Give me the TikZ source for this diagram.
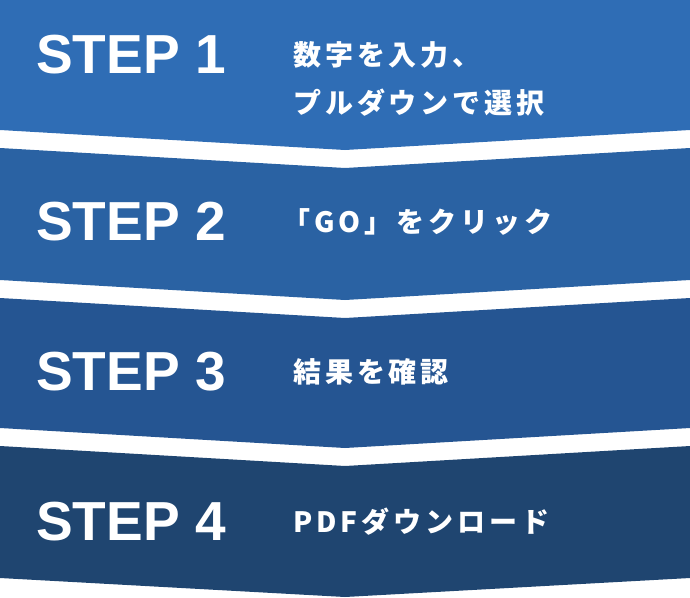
\documentclass[tikz,border=0pt]{standalone}
\usepackage{fontspec}
\setmainfont{Liberation Sans}
\newfontfamily\jp[LetterSpace=14]{Noto Sans CJK JP}
\definecolor{cA}{HTML}{2F6DB5}
\definecolor{cB}{HTML}{2A62A3}
\definecolor{cC}{HTML}{255592}
\definecolor{cD}{HTML}{1F4570}
\tikzset{
 steplbl/.style={anchor=west,text=white,font=\fontsize{55}{55}\selectfont\bfseries,inner sep=0pt},
 desc/.style={anchor=west,text=white,font=\jp\fontsize{28}{48}\selectfont\bfseries,align=left,inner sep=0pt}
}
\begin{document}
\begin{tikzpicture}[x=1pt,y=-1pt]
\useasboundingbox (0,0) rectangle (690,597);
\fill[cA] (0,0) -- (690,0) -- (690,130) -- (345,150) -- (0,130) -- cycle;
\fill[cB] (0,148) -- (345,168) -- (690,148) -- (690,280) -- (345,300) -- (0,280) -- cycle;
\fill[cC] (0,298) -- (345,318) -- (690,298) -- (690,428) -- (345,448) -- (0,428) -- cycle;
\fill[cD] (0,446) -- (345,466) -- (690,446) -- (690,578) -- (345,597) -- (0,578) -- cycle;
\node[steplbl] (s1) at (36,55) {STEP 1};
\node[steplbl] (s2) at (36,222) {STEP 2};
\node[steplbl] (s3) at (36,372) {STEP 3};
\node[steplbl] (s4) at (36,522) {STEP 4};
\node[desc] (d1) at (293,79) {数字を入力、\\プルダウンで選択};
\node[desc] (d2) at (282,222) {「GO」をクリック};
\node[desc] (d3) at (293,372) {結果を確認};
\node[desc] (d4) at (293,522) {PDFダウンロード};
\end{tikzpicture}
\end{document}
